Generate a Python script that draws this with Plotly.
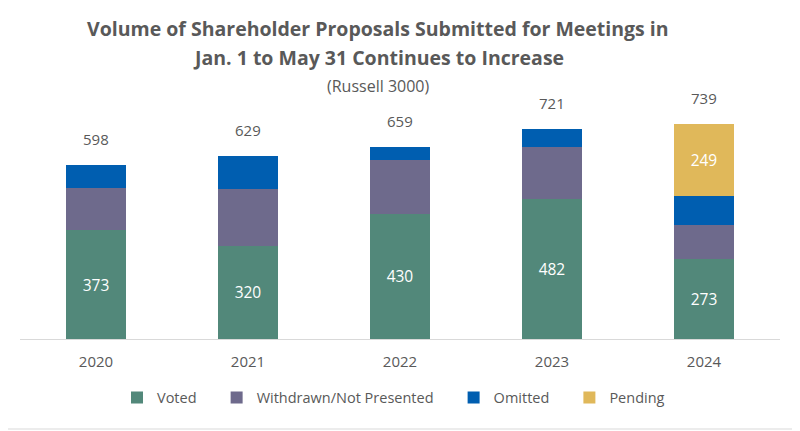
import plotly.graph_objects as go

years = ["2020", "2021", "2022", "2023", "2024"]
voted = [373, 320, 430, 482, 273]
withdrawn = [147, 196, 186, 177, 117]
omitted = [78, 113, 43, 62, 100]
pending = [None, None, None, None, 249]
totals = [598, 629, 659, 721, 739]

voted_labels = [str(v) for v in voted]
pending_labels = ["", "", "", "", "249"]

FONT = "Open Sans"
GREY = "#595959"
PAD = "\u00a0" * 4

fig = go.Figure()
fig.add_bar(x=years, y=voted, name="Voted" + PAD, marker=dict(color="#52887A", line=dict(width=0)),
            text=voted_labels, textposition="inside", insidetextanchor="middle",
            textfont=dict(color="white", size=15.5, family=FONT), hoverinfo="skip")
fig.add_bar(x=years, y=withdrawn, name="Withdrawn/Not Presented" + PAD,
            marker=dict(color="#6E6A8C", line=dict(width=0)), hoverinfo="skip")
fig.add_bar(x=years, y=omitted, name="Omitted" + PAD,
            marker=dict(color="#005EB0", line=dict(width=0)), hoverinfo="skip")
fig.add_bar(x=years, y=pending, name="Pending", marker=dict(color="#E0B85A", line=dict(width=0)),
            text=pending_labels, textposition="inside", insidetextanchor="middle",
            textfont=dict(color="white", size=15.5, family=FONT), hoverinfo="skip")

for i, t in enumerate(totals):
    fig.add_annotation(x=i, y=t, text=str(t), showarrow=False, yshift=26,
                       font=dict(size=15, color=GREY, family=FONT))

top_px, bot_px = 105.7, 339.3
def ypaper(p):
    return (bot_px - p) / (bot_px - top_px)

title_x = (378 - 20) / 760
fig.add_annotation(xref="paper", yref="paper", x=title_x, y=ypaper(28), yanchor="middle",
                   text="<b>Volume of Shareholder Proposals Submitted for Meetings in</b>",
                   showarrow=False, font=dict(size=19.5, color=GREY, family=FONT))
fig.add_annotation(xref="paper", yref="paper", x=title_x, y=ypaper(57), yanchor="middle",
                   text="<b>Jan. 1 to May 31 Continues to Increase</b>",
                   showarrow=False, font=dict(size=19.5, color=GREY, family=FONT))
fig.add_annotation(xref="paper", yref="paper", x=title_x, y=ypaper(86), yanchor="middle",
                   text="(Russell 3000)",
                   showarrow=False, font=dict(size=16, color=GREY, family=FONT))

# outer border
fig.add_shape(type="rect", xref="paper", yref="paper",
              x0=(0.5 - 20) / 760, x1=(799 - 20) / 760,
              y0=ypaper(429.5), y1=ypaper(0.5),
              line=dict(color="#E6E6E6", width=1.5), fillcolor="rgba(0,0,0,0)")

fig.update_layout(
    barmode="stack",
    bargap=0.605,
    width=800, height=431,
    margin=dict(l=12, r=28, t=97.7, b=99.7),
    paper_bgcolor="white", plot_bgcolor="white",
    font=dict(family=FONT, color=GREY),
    showlegend=True,
    legend=dict(orientation="h", x=(393.5 - 20) / 760, xanchor="center", y=ypaper(398), yanchor="middle",
                font=dict(size=14.5, color=GREY, family=FONT), traceorder="normal",
                itemwidth=30),
    xaxis=dict(type="category", range=[-0.5, 4.5], showline=True, linecolor="#D9D9D9",
               linewidth=1, ticks="", ticklabelstandoff=9,
               tickfont=dict(size=15, color=GREY, family=FONT),
               showgrid=False, fixedrange=True),
    yaxis=dict(range=[0, 800], visible=False, showgrid=False, fixedrange=True),
)

fig.write_html("out.html")
